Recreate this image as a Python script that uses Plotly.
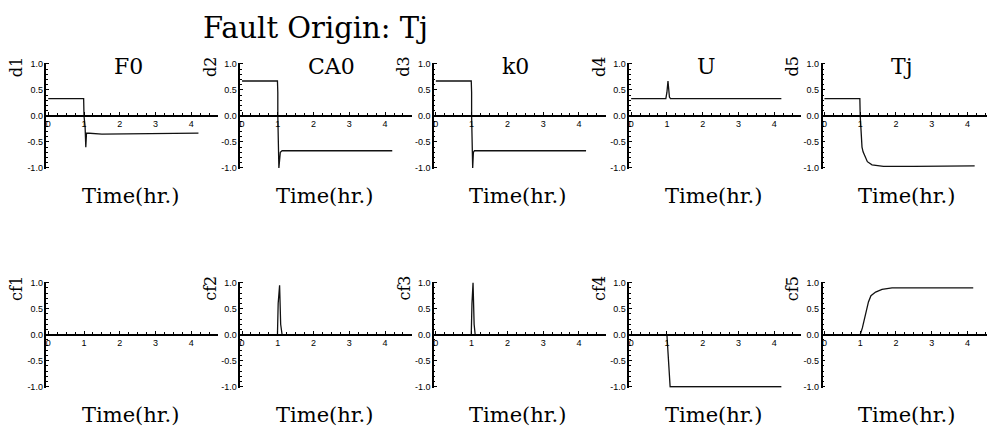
import plotly.graph_objects as go

# ---- data: fault-signature responses after a fault at t = 1 hr ----
faults = ["F0", "CA0", "k0", "U", "Tj"]

# d-series (top row)
d1_t = [0, 0.99, 1.0, 1.03, 1.05, 1.07, 1.5, 4.2]
d1_v = [0.33, 0.33, 0.0, -0.2, -0.6, -0.33, -0.35, -0.33]

d2_t = [0, 0.99, 1.0, 1.0, 1.03, 1.07, 1.12, 4.2]
d2_v = [0.67, 0.67, 0.45, 0.0, -1.0, -0.7, -0.67, -0.67]

d3_t = [0, 0.99, 1.0, 1.0, 1.03, 1.05, 1.08, 4.2]
d3_v = [0.67, 0.67, 0.45, 0.0, -1.0, -0.7, -0.67, -0.67]

d4_t = [0, 0.97, 1.0, 1.03, 1.07, 1.1, 4.2]
d4_v = [0.33, 0.33, 0.45, 0.67, 0.36, 0.33, 0.33]

d5_t = [0, 0.99, 1.0, 1.05, 1.08, 1.2, 1.33, 1.65, 2.5, 4.2]
d5_v = [0.33, 0.33, 0.0, -0.6, -0.69, -0.88, -0.94, -0.97, -0.97, -0.96]

# cf-series (bottom row)
cf1_t = [0, 4.2]
cf1_v = [0.0, 0.0]

cf2_t = [0, 0.99, 1.01, 1.05, 1.08, 1.12, 4.2]
cf2_v = [0.0, 0.0, 0.6, 0.95, 0.2, 0.0, 0.0]

cf3_t = [0, 0.99, 1.01, 1.04, 1.07, 1.1, 4.2]
cf3_v = [0.0, 0.0, 0.6, 1.0, 0.2, 0.0, 0.0]

cf4_t = [0, 1.0, 1.09, 4.2]
cf4_v = [0.0, 0.0, -1.0, -1.0]

cf5_t = [0, 1.0, 1.06, 1.14, 1.23, 1.3, 1.43, 1.61, 1.89, 2.35, 4.16]
cf5_v = [0.0, 0.0, 0.13, 0.38, 0.63, 0.75, 0.82, 0.87, 0.9, 0.9, 0.9]

top_series = [(d1_t, d1_v), (d2_t, d2_v), (d3_t, d3_v), (d4_t, d4_v), (d5_t, d5_v)]
bot_series = [(cf1_t, cf1_v), (cf2_t, cf2_v), (cf3_t, cf3_v), (cf4_t, cf4_v), (cf5_t, cf5_v)]
top_labels = ["d1", "d2", "d3", "d4", "d5"]
bot_labels = ["cf1", "cf2", "cf3", "cf4", "cf5"]

y_ticks = [-1.0, -0.5, 0.0, 0.5, 1.0]
y_ticktext = ["-1.0", "-0.5", "0.0", "0.5", "1.0"]
x_ticks = [0, 1, 2, 3, 4]

# ---- layout geometry (pixels) ----
W, H = 987, 429
PX_PER_HR = 35.8
X0 = -0.05
X1 = 4.75
col_axis_px = [45.5, 239.5, 433.5, 629.0, 822.5]
Y_RANGE = [-1.02, 1.02]
rows = [  # (top px, bottom px) of each row's plot area
    (59.9, 168.1),
    (282.9, 391.1),
]

SERIF = "DejaVu Serif"
SANS = "Liberation Sans"

fig = go.Figure()
annotations = []

for r, (series, labels) in enumerate([(top_series, top_labels), (bot_series, bot_labels)]):
    ytop, ybot = rows[r]
    ydom = [1 - ybot / H, 1 - ytop / H]
    frac0 = (0 - Y_RANGE[0]) / (Y_RANGE[1] - Y_RANGE[0])
    y_zero_paper = ydom[0] + frac0 * (ydom[1] - ydom[0])
    for c in range(5):
        idx = r * 5 + c + 1
        xname = "xaxis" if idx == 1 else f"xaxis{idx}"
        yname = "yaxis" if idx == 1 else f"yaxis{idx}"
        xref = "x" if idx == 1 else f"x{idx}"
        yref = "y" if idx == 1 else f"y{idx}"

        left = col_axis_px[c]
        right = left + (X1 - X0) * PX_PER_HR
        xmax = X1
        if right > W:
            right = W
            xmax = X0 + (W - left) / PX_PER_HR
        xdom = [left / W, right / W]

        t, v = series[c]
        fig.add_trace(go.Scatter(
            x=t, y=v, xaxis=xref, yaxis=yref, mode="lines",
            line=dict(color="#111111", width=1.3), showlegend=False,
            hoverinfo="skip",
        ))

        fig.layout[xname] = dict(
            domain=xdom, range=[X0, xmax], anchor="free", position=y_zero_paper,
            showline=True, linecolor="black", linewidth=1.5,
            showgrid=False, zeroline=False,
            tickmode="array", tickvals=x_ticks, ticktext=[str(k) for k in x_ticks],
            ticks="inside", ticklen=3, tickcolor="black", tickwidth=1,
            minor=dict(ticks="inside", ticklen=2, dtick=0.25, tickcolor="black", showgrid=False),
            tickfont=dict(family=SANS, size=9, color="black"),
            fixedrange=True,
        )
        fig.layout[yname] = dict(
            domain=ydom, range=Y_RANGE, anchor=xref,
            showline=True, linecolor="black", linewidth=1.5,
            showgrid=False, zeroline=False,
            tickmode="array", tickvals=y_ticks, ticktext=y_ticktext,
            ticks="inside", ticklen=3, tickcolor="black", tickwidth=1,
            minor=dict(ticks="inside", ticklen=1.5, dtick=0.1, tickcolor="black", showgrid=False),
            tickfont=dict(family=SANS, size=9, color="black"),
            fixedrange=True,
        )

        # rotated axis label (d1 ... cf5)
        label_cy = ytop + 4 if r == 0 else ytop + 7
        annotations.append(dict(
            text=labels[c], x=(left - 30) / W, y=1 - label_cy / H,
            xref="paper", yref="paper", xanchor="center", yanchor="middle",
            textangle=-90, showarrow=False,
            font=dict(family=SERIF, size=16, color="black"),
        ))
        # x axis title
        time_cy = 196 if r == 0 else 419
        annotations.append(dict(
            text="Time(hr.)", x=(left + 84) / W, y=1 - time_cy / H,
            xref="paper", yref="paper", xanchor="center", yanchor="middle",
            showarrow=False, font=dict(family=SERIF, size=21, color="black"),
        ))
        # column title (top row only)
        if r == 0:
            annotations.append(dict(
                text=faults[c], x=(left + 66) / W, y=1 - 64 / H,
                xref="paper", yref="paper", xanchor="left", yanchor="middle",
                showarrow=False, font=dict(family=SERIF, size=22, color="black"),
            ))

annotations.append(dict(
    text="Fault Origin: Tj", x=200 / W, y=1 - 24 / H,
    xref="paper", yref="paper", xanchor="left", yanchor="middle",
    showarrow=False, font=dict(family=SERIF, size=29, color="black"),
))

fig.update_layout(
    width=W, height=H, margin=dict(l=0, r=0, t=0, b=0),
    paper_bgcolor="white", plot_bgcolor="white",
    annotations=annotations, showlegend=False,
)

fig.write_html("out.html", config={"displayModeBar": False})
